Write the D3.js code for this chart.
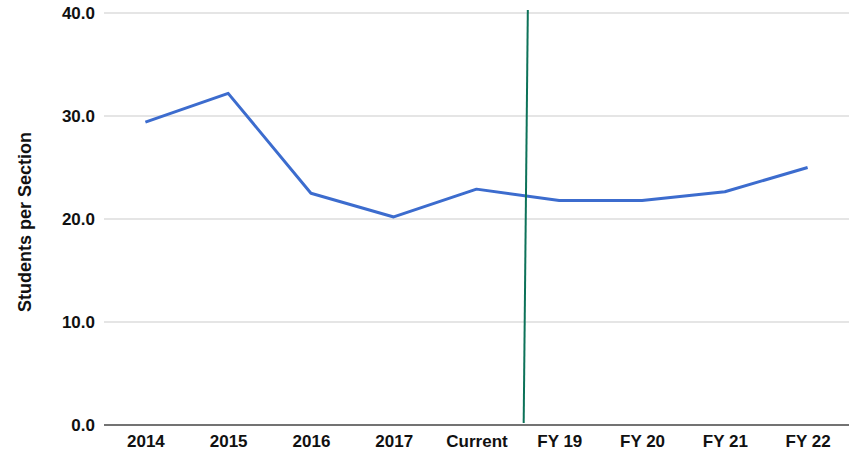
<!DOCTYPE html>
<html>
<head>
<meta charset="utf-8">
<script src="https://cdn.jsdelivr.net/npm/d3@7"></script>
<style>
  body { margin: 0; background: #fff; }
  svg { display: block; font-family: "Liberation Sans", Arial, Helvetica, sans-serif; }
</style>
</head>
<body>
<div id="chart"></div>
<script>
const categories = ["2014", "2015", "2016", "2017", "Current", "FY 19", "FY 20", "FY 21", "FY 22"];
const studentsPerSection = [29.4, 32.2, 22.5, 20.2, 22.9, 21.8, 21.8, 22.65, 25.0];
const yTicks = [0, 10, 20, 30, 40];
// divider between actual and projected years (position along x in category units, y value)
const dividerTop = {pos: 4.62, value: 40.3};
const dividerBottom = {pos: 4.57, value: 0.2};

const svgWidth = 858;
const svgHeight = 452;
const margins = {top: 13, right: 9, bottom: 27, left: 104};

const svg = d3.select("#chart")
  .append("svg")
  .attr("width", svgWidth)
  .attr("height", svgHeight);

const xScale = d3.scalePoint()
  .domain(categories)
  .range([margins.left, svgWidth - margins.right])
  .padding(0.5);

const yScale = d3.scaleLinear()
  .domain([0, 40])
  .range([svgHeight - margins.bottom, margins.top]);

// maps fractional category index to pixel
const step = xScale.step();
const xIdx = i => xScale(categories[0]) + i * step;

// gridlines
svg.append("g")
  .selectAll("line")
  .data(yTicks.filter(d => d !== 0))
  .join("line")
    .attr("x1", margins.left)
    .attr("x2", svgWidth - margins.right)
    .attr("y1", d => yScale(d))
    .attr("y2", d => yScale(d))
    .attr("stroke", "#cccccc")
    .attr("stroke-width", 1.2);

// y axis labels
const yAxis = g => g
  .attr("transform", "translate(" + margins.left + ",0)")
  .call(d3.axisLeft(yScale).tickValues(yTicks).tickFormat(d3.format(".1f")).tickSize(0).tickPadding(9))
  .call(g => g.select(".domain").remove())
  .selectAll("text")
    .attr("font-size", "17px")
    .attr("font-weight", "bold")
    .attr("fill", "#111")
    .attr("font-family", "Liberation Sans, Arial, sans-serif");

svg.append("g").call(yAxis);

// baseline
svg.append("line")
  .attr("x1", margins.left)
  .attr("x2", svgWidth - margins.right)
  .attr("y1", yScale(0))
  .attr("y2", yScale(0))
  .attr("stroke", "#444")
  .attr("stroke-width", 1.5);

// x axis labels
const xAxis = g => g
  .attr("transform", "translate(0," + yScale(0) + ")")
  .call(d3.axisBottom(xScale).tickSize(0).tickPadding(10))
  .call(g => g.select(".domain").remove())
  .selectAll("text")
    .attr("font-size", "17px")
    .attr("font-weight", "bold")
    .attr("fill", "#111")
    .attr("font-family", "Liberation Sans, Arial, sans-serif");

svg.append("g").call(xAxis);

// data line
const line = d3.line()
  .x((d, i) => xScale(categories[i]))
  .y(d => yScale(d));

svg.append("path")
  .datum(studentsPerSection)
  .attr("fill", "none")
  .attr("stroke", "#3c6cce")
  .attr("stroke-width", 3)
  .attr("stroke-linejoin", "round")
  .attr("d", line);

// divider
svg.append("line")
  .attr("x1", xIdx(dividerTop.pos))
  .attr("y1", yScale(dividerTop.value))
  .attr("x2", xIdx(dividerBottom.pos))
  .attr("y2", yScale(dividerBottom.value))
  .attr("stroke", "#0d7259")
  .attr("stroke-width", 2);

// y axis title
svg.append("text")
  .attr("transform", "translate(31," + 222 + ") rotate(-90)")
  .attr("text-anchor", "middle")
  .attr("font-size", "18px")
  .attr("font-weight", "bold")
  .attr("fill", "#111")
  .text("Students per Section");
</script>
</body>
</html>
